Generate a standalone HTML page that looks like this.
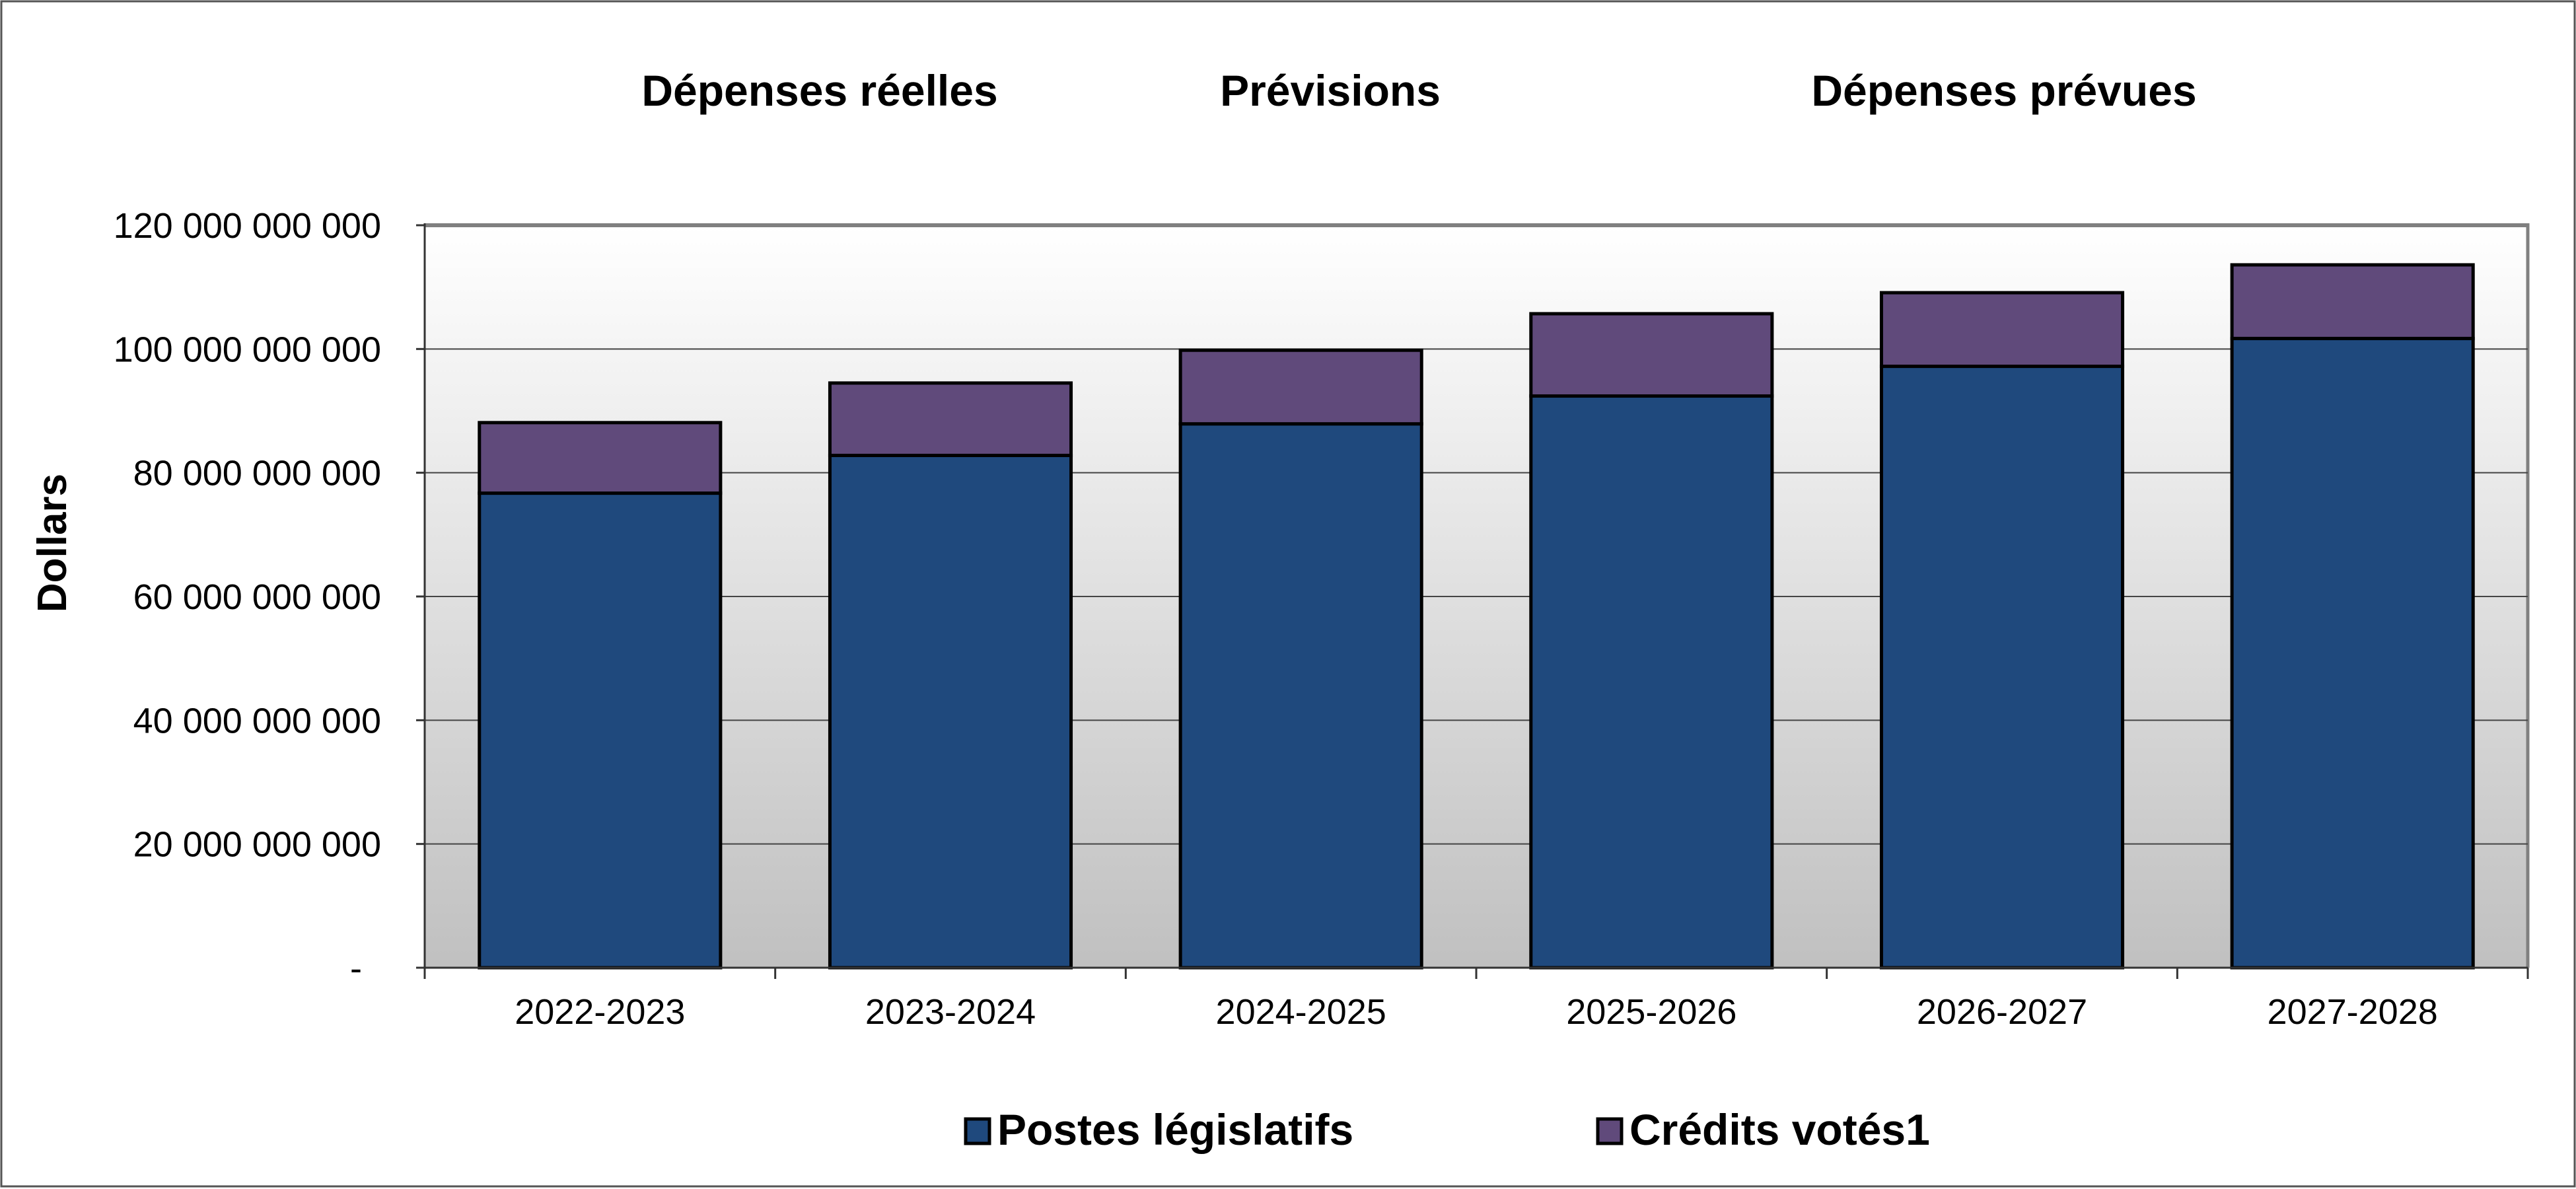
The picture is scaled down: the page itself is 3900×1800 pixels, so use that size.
<!DOCTYPE html>
<html><head><meta charset="utf-8"><style>
html,body{margin:0;padding:0;background:#fff;}
svg{display:block;font-family:"Liberation Sans",Arial,sans-serif;}
</style></head><body>
<svg id="chart" width="3900" height="1800" viewBox="0 0 3900 1800" xmlns="http://www.w3.org/2000/svg">
<defs>
<linearGradient id="bg" x1="0" y1="0" x2="0" y2="1">
<stop offset="0" stop-color="#ffffff"/><stop offset="1" stop-color="#c0c0c0"/>
</linearGradient>
</defs>
<rect x="2" y="2" width="3896" height="1794" fill="#fff" stroke="#555" stroke-width="3"/>
<rect x="643" y="341" width="3184" height="1124" fill="url(#bg)"/>
<line x1="643" y1="341" x2="3827" y2="341" stroke="#808080" stroke-width="6"/>
<line x1="3827" y1="338" x2="3827" y2="1465" stroke="#808080" stroke-width="5"/>
<g id="grid"></g>
<g id="bars"></g>
<line x1="643" y1="338" x2="643" y2="1482" stroke="#333" stroke-width="3"/>
<line x1="630" y1="1465" x2="3827" y2="1465" stroke="#333" stroke-width="3"/>
<g id="ticks"></g>
<text x="1241" y="160" font-size="66" font-weight="bold" text-anchor="middle">Dépenses réelles</text>
<text x="2014" y="160" font-size="66" font-weight="bold" text-anchor="middle">Prévisions</text>
<text x="3034" y="160" font-size="66" font-weight="bold" text-anchor="middle">Dépenses prévues</text>
<text transform="translate(100,822) rotate(-90)" font-size="62" font-weight="bold" text-anchor="middle">Dollars</text>
<rect x="1462" y="1694" width="36" height="37" fill="#1f497d" stroke="#000" stroke-width="5"/>
<text x="1510" y="1733" font-size="66" font-weight="bold">Postes législatifs</text>
<rect x="2419" y="1694" width="36" height="37" fill="#604a7b" stroke="#000" stroke-width="5"/>
<text x="2467" y="1733" font-size="66" font-weight="bold">Crédits votés1</text>
</svg>
<script>
const categories = ["2022-2023","2023-2024","2024-2025","2025-2026","2026-2027","2027-2028"];
const statutory = [76.7e9, 82.8e9, 87.9e9, 92.4e9, 97.2e9, 101.7e9];
const voted = [11.4e9, 11.7e9, 11.9e9, 13.3e9, 11.9e9, 11.9e9];
const yTicks = [0, 20e9, 40e9, 60e9, 80e9, 100e9, 120e9];
const yTickLabels = ["-", "20 000 000 000", "40 000 000 000", "60 000 000 000", "80 000 000 000", "100 000 000 000", "120 000 000 000"];

const NS = "http://www.w3.org/2000/svg";
const PL = 643, PR = 3827, PT = 341, PB = 1465, YMAX = 120e9;
const y = v => PB - (v / YMAX) * (PB - PT);
const bandW = (PR - PL) / categories.length;
const x = i => PL + bandW * i;
const barW = bandW * 0.688;
function mk(tag, attrs, parent) {
  const e = document.createElementNS(NS, tag);
  for (const k in attrs) e.setAttribute(k, attrs[k]);
  parent.appendChild(e);
  return e;
}
const grid = document.getElementById('grid');
const bars = document.getElementById('bars');
const ticks = document.getElementById('ticks');
yTicks.forEach((t, i) => {
  if (t > 0 && t < YMAX) {
    const g = mk('line', {x1: PL, x2: PR, y1: y(t), y2: y(t), stroke: '#444', 'stroke-width': 2}, grid);
    
    
  }
  const tk = mk('line', {x1: 630, x2: PL, y1: y(t), y2: y(t), stroke: '#333', 'stroke-width': 3}, ticks);
  
  
  const lb = mk('text', {x: t === 0 ? 548 : 577, y: y(t) + 19, 'font-size': 54, 'text-anchor': 'end'}, ticks);
  lb.textContent = yTickLabels[i];
  
  
});
for (let i = 0; i <= categories.length; i++) {
  const tk = mk('line', {x1: x(i), x2: x(i), y1: PB, y2: PB + 17, stroke: '#333', 'stroke-width': 3}, ticks);
  
  
}
categories.forEach((c, i) => {
  const bx = x(i) + (bandW - barW) / 2;
  const s = mk('rect', {x: bx, y: y(statutory[i]), width: barW, height: PB - y(statutory[i]), fill: '#1f497d', stroke: '#000', 'stroke-width': 5}, bars);
  
  
  const tot = statutory[i] + voted[i];
  const v = mk('rect', {x: bx, y: y(tot), width: barW, height: y(statutory[i]) - y(tot), fill: '#604a7b', stroke: '#000', 'stroke-width': 5}, bars);
  
  
  const lb = mk('text', {x: x(i) + bandW / 2, y: 1550, 'font-size': 54, 'text-anchor': 'middle'}, ticks);
  lb.textContent = c;
  
  
});
</script>
</body></html>
